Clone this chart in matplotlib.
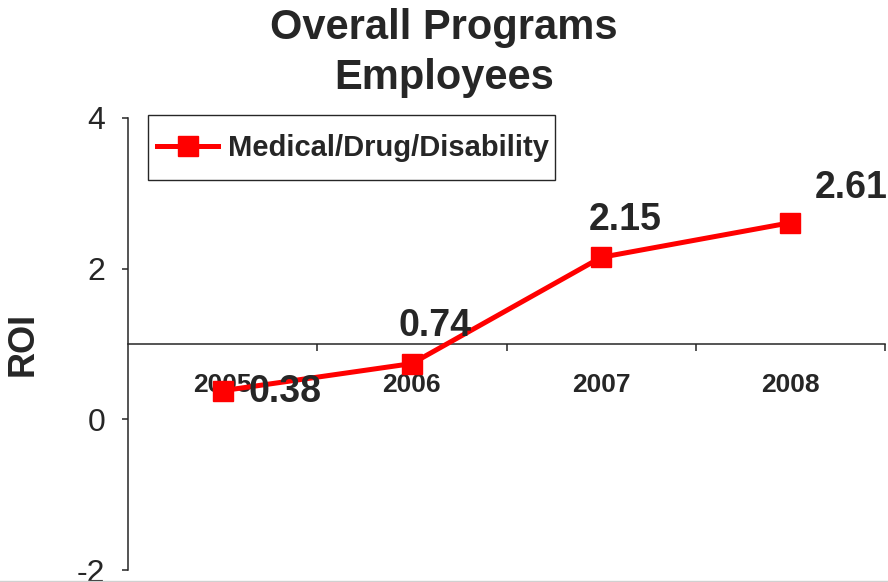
"""Overall Programs ROI line chart for employees."""

import matplotlib

matplotlib.use("Agg")
import matplotlib.pyplot as plt
from matplotlib.lines import Line2D
from matplotlib.patches import Rectangle

plt.rcParams["font.family"] = ["Liberation Sans", "DejaVu Sans"]
plt.rcParams["axes.unicode_minus"] = False

# chart data
years = ["2005", "2006", "2007", "2008"]
roi = [0.38, 0.74, 2.15, 2.61]
series_name = "Medical/Drug/Disability"
y_ticks = [-2, 0, 2, 4]

# label offsets (points) as placed in the original chart
label_offsets = [(45, -1), (17, 27), (17, 27), (44, 25)]

text_color = "#262626"
line_color = "#ff0000"
W, H = 888, 582

fig = plt.figure(figsize=(W / 100, H / 100), dpi=100)
ax = fig.add_axes([128 / W, 1 - 570 / H, (885 - 128) / W, (570 - 118) / H])

x = list(range(len(years)))
ax.plot(x, roi, color=line_color, linewidth=3.6, marker="s", markersize=15,
        markeredgecolor=line_color, label=series_name, clip_on=False, zorder=3)

for xi, val, off in zip(x, roi, label_offsets):
    ax.annotate(f"{val:.2f}", (xi, val), xytext=off, textcoords="offset points",
                ha="center", va="center", fontsize=27, fontweight="bold",
                color=text_color, zorder=4)

ax.set_xlim(-0.5, len(years) - 0.5)
ax.set_ylim(-2, 4)

# x axis crosses at y = 1
ax.spines["top"].set_visible(False)
ax.spines["right"].set_visible(False)
ax.spines["bottom"].set_position(("data", 1))
for side in ["left", "bottom"]:
    ax.spines[side].set_color(text_color)
    ax.spines[side].set_linewidth(1.1)

ax.set_xticks([i + 0.5 for i in x])
ax.set_xticklabels([])
ax.set_xticks(x, minor=True)
ax.set_xticklabels(years, minor=True, fontsize=19, fontweight="bold", color=text_color)
ax.tick_params(axis="x", which="major", direction="out", length=5, width=1.1, color=text_color)
ax.tick_params(axis="x", which="minor", length=0, pad=21)

ax.set_yticks(y_ticks)
ax.tick_params(axis="y", direction="out", length=4.5, width=1.1, color=text_color,
               labelsize=23, labelcolor=text_color, pad=12)
ax.set_ylabel("ROI", fontsize=26, fontweight="bold", color=text_color, labelpad=26)

# legend: frameless entry inside a hand-sized box like the original
leg = ax.legend(loc="center left", bbox_to_anchor=(157 / W, 1 - 148 / H),
                bbox_transform=fig.transFigure, frameon=False,
                prop={"size": 21, "weight": "bold"}, handlelength=2.1,
                handletextpad=0.35, borderpad=0, borderaxespad=0)
for t in leg.get_texts():
    t.set_color(text_color)
fig.add_artist(Rectangle((148 / W, 1 - 180 / H), (555 - 148) / W, 65 / H,
                         transform=fig.transFigure, fill=False,
                         edgecolor=text_color, linewidth=1.0))

fig.text(0.5, 1 - 28 / H, "Overall Programs", ha="center", va="center",
         fontsize=30, fontweight="bold", color=text_color)
fig.text(0.5, 1 - 78 / H, "Employees", ha="center", va="center",
         fontsize=30, fontweight="bold", color=text_color)

# faint border line at the bottom of the picture
fig.add_artist(Line2D([0, 1], [1.5 / H, 1.5 / H], transform=fig.transFigure,
                      color="#d0d0d0", linewidth=1))

fig.savefig("out.png", dpi=100)
plt.close(fig)
